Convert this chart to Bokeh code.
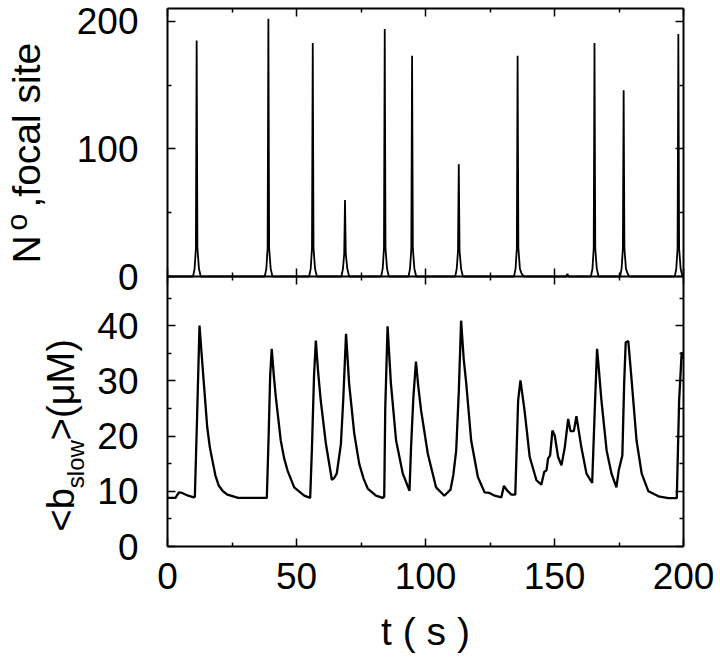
import math
from bokeh.plotting import figure
from bokeh.models import LinearAxis, FixedTicker, Range1d, Label
from bokeh.embed import file_html
from bokeh.resources import INLINE

# ---------------- data ----------------
# top panel: N^o at the focal site (spikes)
focal_t = [0.0,
           9.9, 10.5, 11.0, 11.3, 11.6, 12.2, 12.9,
           37.7, 38.3, 38.8, 39.1, 39.4, 40.0, 40.7,
           54.9, 55.5, 56.0, 56.3, 56.6, 57.2, 57.9,
           67.4, 68.0, 68.5, 68.8, 69.1, 69.7, 70.4,
           82.8, 83.4, 83.9, 84.2, 84.5, 85.1, 85.8,
           93.4, 94.0, 94.5, 94.8, 95.1, 95.7, 96.4,
           111.5, 112.1, 112.6, 112.9, 113.2, 113.8, 114.5,
           134.3, 134.9, 135.4, 135.7, 136.0, 136.6, 137.3, 138.2,
           154.5, 155.0, 155.5,
           164.1, 164.7, 165.2, 165.5, 165.8, 166.4, 167.1,
           175.4, 176.0, 176.5, 176.8, 177.1, 177.7, 178.4, 179.0,
           196.6, 197.2, 197.7, 198.0, 198.3, 198.9, 199.6, 200.0]
focal_n = [0,
           0, 6, 22, 185, 22, 6, 0,
           0, 6, 22, 202, 22, 6, 0,
           0, 6, 22, 183, 22, 6, 0,
           0, 6, 18, 60, 18, 6, 0,
           0, 6, 22, 194, 22, 6, 0,
           0, 6, 22, 173, 22, 6, 0,
           0, 6, 20, 88, 20, 6, 0,
           0, 6, 22, 173, 22, 6, 2, 0,
           0, 2, 0,
           0, 6, 22, 183, 22, 6, 0,
           0, 6, 22, 146, 22, 6, 2, 0,
           0, 6, 22, 190, 22, 6, 0, 0]

# bottom panel: <b_slow> (uM)
bslow_t = [0.0, 3.1, 4.4, 5.7, 8.0, 10.2, 10.6, 11.5, 12.4, 13.2, 14.1, 15.4, 16.4, 17.4,
           18.6, 19.9, 21.5, 23.2, 27.4, 38.5, 39.2, 39.8, 40.4, 41.2, 42.0, 43.9, 45.2,
           46.5, 49.1, 53.0, 55.3, 56.0, 56.8, 57.5, 58.4, 59.4, 61.4, 63.7, 64.6, 65.6,
           67.2, 68.1, 69.2, 70.4, 72.4, 74.3, 76.0, 77.6, 80.8, 83.4, 84.0, 84.4, 85.3,
           86.6, 88.6, 91.2, 93.8, 94.4, 95.3, 96.3, 97.2, 98.3, 100.9, 104.1, 107.3,
           109.7, 110.8, 111.9, 112.9, 113.8, 114.8, 115.8, 117.7, 120.3, 122.9, 124.8,
           126.8, 129.4, 130.4, 131.5, 133.3, 134.8, 135.9, 136.8, 138.4, 140.4, 143.0,
           144.9, 146.0, 146.9, 147.5, 148.3, 149.2, 150.1, 151.4, 152.7, 154.0, 155.3,
           156.2, 157.5, 158.5, 160.4, 162.4, 164.6, 165.7, 166.5, 167.3, 168.2, 170.2,
           172.1, 174.0, 174.9, 176.3, 177.0, 177.6, 178.6, 179.9, 181.8, 183.8, 186.4,
           190.3, 194.1, 197.4, 198.3, 199.3, 199.9]
bslow_v = [8.8, 8.8, 9.8, 9.7, 9.2, 8.9, 9.0, 24.0, 40.0, 35.0, 29.5, 21.6, 18.0, 15.6,
           12.8, 11.0, 10.0, 9.4, 8.8, 8.8, 20.0, 31.0, 35.8, 31.0, 27.0, 19.2, 16.0,
           13.8, 10.7, 9.2, 8.8, 18.0, 31.0, 37.3, 31.5, 26.4, 18.6, 12.1, 12.4, 13.2,
           18.5, 26.4, 38.5, 29.5, 20.4, 15.0, 12.3, 10.5, 9.2, 8.8, 9.0, 25.0, 39.9,
           29.5, 19.2, 13.2, 10.1, 18.0, 27.0, 33.5, 29.0, 24.6, 16.8, 10.7, 9.2,
           10.3, 13.0, 17.4, 28.0, 40.9, 34.0, 29.5, 19.2, 12.6, 9.8, 9.7,
           9.2, 8.9, 11.0, 10.2, 9.4, 9.4, 26.4, 30.1, 24.6, 16.2, 12.0,
           11.2, 13.5, 13.8, 15.9, 16.5, 21.0, 20.1, 16.2, 14.7, 18.0, 23.1,
           20.9, 20.9, 23.6, 18.0, 13.2, 11.5, 26.0, 35.8, 31.5, 26.4, 17.4,
           13.2, 10.7, 13.8, 16.5, 29.5, 37.0, 37.2, 30.1, 19.2, 13.2, 10.0,
           9.1, 8.75, 8.75, 26.4, 35.2, 34.0]

x_ticks = [0, 50, 100, 150, 200]
x_minor = [25, 75, 125, 175]
top_ticks = [0, 100, 200]
top_minor = [50, 150]
bot_ticks = [0, 10, 20, 30, 40]
bot_minor = [5, 15, 25, 35, 45]

top_label_parts = ["N", "o", ",focal site"]
bot_label_parts = ["<b", "slow", ">(\u03bcM)"]
x_label = "t ( s )"

# ---------------- layout (canvas pixels) ----------------
FONT = "Liberation Sans"
W, H = 718, 655
FRAME_L, FRAME_R = 167, 683
TOP_Y0, TOP_Y1 = 8, 276      # top panel: TOP_MAX at TOP_Y0, 0 at TOP_Y1
BOT_Y0, BOT_Y1 = 276, 546    # bottom panel: BOT_MAX at BOT_Y0, 0 at BOT_Y1
X_MAX = 200
TOP_MAX = 210
BOT_MAX = 48.9
MID = 0.347                  # text middle above baseline (em)

kx = (FRAME_R - FRAME_L) / X_MAX
kt = (TOP_Y1 - TOP_Y0) / TOP_MAX
kb = (BOT_Y1 - BOT_Y0) / BOT_MAX

p = figure(width=W, height=H,
           x_range=Range1d(-FRAME_L / kx, (W - FRAME_L) / kx),
           y_range=Range1d(-(H - BOT_Y1) / kb, BOT_Y1 / kb),
           output_backend="svg", toolbar_location=None,
           x_axis_location=None, y_axis_location=None,
           min_border_left=0, min_border_right=0, min_border_top=0, min_border_bottom=0)
p.extra_y_ranges = {"top": Range1d(-(H - TOP_Y1) / kt, TOP_Y1 / kt)}
p.grid.visible = False
p.outline_line_color = None
p.background_fill_color = "white"
p.border_fill_color = "white"


def make_axis(ticks, minor, loc, bounds, range_name="default", labels=False,
              standoff=0, tin=8, tout=0):
    kw = {}
    if range_name != "default":
        kw["y_range_name"] = range_name
    ax = LinearAxis(ticker=FixedTicker(ticks=ticks, minor_ticks=minor),
                    fixed_location=loc, bounds=bounds,
                    major_tick_in=tin, major_tick_out=tout,
                    minor_tick_in=tin // 2, minor_tick_out=tout // 2,
                    major_tick_line_width=1.5, minor_tick_line_width=1.5,
                    major_tick_line_color="black", minor_tick_line_color="black",
                    axis_line_width=2, axis_line_color="black", **kw)
    if labels:
        ax.major_label_text_font = FONT
        ax.major_label_text_font_size = "37px"
        ax.major_label_text_color = "black"
        ax.major_label_standoff = standoff
    else:
        ax.major_label_text_color = None
    return ax


# top panel frame axes
p.add_layout(make_axis(top_ticks, top_minor, 0, (0, TOP_MAX), "top", True, 29), "left")
p.add_layout(make_axis(top_ticks, top_minor, X_MAX, (0, TOP_MAX), "top"), "right")
p.add_layout(make_axis(x_ticks, x_minor, TOP_MAX, (0, X_MAX), "top"), "above")
# boundary shared by both panels (ticks on both sides)
p.add_layout(make_axis(x_ticks, x_minor, 0, (0, X_MAX), "top", tin=8, tout=8), "below")
# bottom panel frame axes
p.add_layout(make_axis(bot_ticks, bot_minor, 0, (0, BOT_MAX), "default", True, 29), "left")
p.add_layout(make_axis(bot_ticks, bot_minor, X_MAX, (0, BOT_MAX)), "right")
p.add_layout(make_axis(x_ticks, x_minor, 0, (0, X_MAX), "default", True, 16), "below")

# data
p.line(focal_t, focal_n, y_range_name="top", line_color="black", line_width=1.8)
p.line(bslow_t, bslow_v, line_color="black", line_width=2.3)


def tx(px):
    return (px - FRAME_L) / kx


def ty(py):
    return (BOT_Y1 - py) / kb


ROT = math.pi / 2


def add_vtext(text, base_x, start_y, size):
    # upward-reading text: base_x = baseline position, start_y = where the text starts
    p.add_layout(Label(x=tx(base_x - MID * size), y=ty(start_y), text=text, angle=ROT,
                       text_font=FONT, text_font_size=f"{size}px", text_color="black",
                       text_align="left", text_baseline="middle"))


# N^o,focal site
add_vtext(top_label_parts[0], 40, 263, 39)
add_vtext(top_label_parts[1], 26, 230, 30)
add_vtext(top_label_parts[2], 40, 207, 39)

# <b_slow>(uM)
add_vtext(bot_label_parts[0], 74, 531, 38)
add_vtext(bot_label_parts[1], 83, 487.7, 24)
add_vtext(bot_label_parts[2], 74, 439.7, 38)

# t ( s )
p.add_layout(Label(x=tx((FRAME_L + FRAME_R) / 2), y=ty(645 - MID * 39), text=x_label,
                   text_font=FONT, text_font_size="39px", text_color="black",
                   text_align="center", text_baseline="middle"))

open("out.html", "w").write(file_html(p, INLINE))
